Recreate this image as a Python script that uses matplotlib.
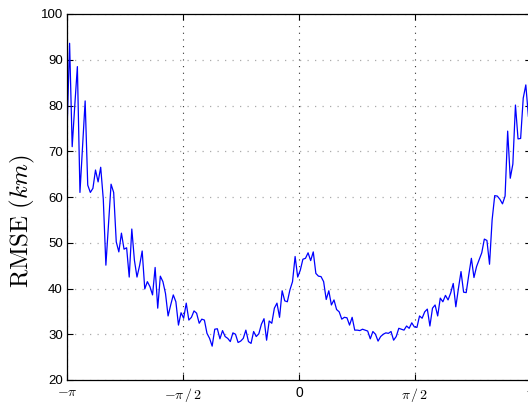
import numpy as np
import matplotlib
matplotlib.use("Agg")
import matplotlib.pyplot as plt

plt.rcParams['mathtext.fontset'] = 'cm'
plt.rcParams['font.family'] = ['Liberation Sans', 'DejaVu Sans']

# RMSE values (km) sampled uniformly from -pi to pi
rmse = [74, 93.6, 71, 80, 88.5, 61, 71, 81, 62.6, 61,
        61.9, 65.9, 63.3, 66.5, 59.5, 45.1, 54, 62.8, 61, 50.2,
        48, 52.1, 48.6, 48.9, 42.5, 53, 46.2, 42.5, 45, 48.2,
        39.9, 41.5, 40.4, 38.6, 44.6, 35.7, 42.7, 41.5, 38.9, 34,
        36.4, 38.6, 37.1, 32, 34.7, 33.5, 36.8, 33.1, 33.7, 35.1,
        34.6, 32.4, 33.3, 33.1, 30.2, 29.1, 27.4, 31.1, 31.2, 29,
        30.8, 29.5, 29.1, 28.4, 30.3, 30, 28.2, 28.5, 29.1, 30.9,
        28.4, 28, 30.6, 29.5, 30.1, 32.2, 33.4, 28.7, 32.9, 32.4,
        35.7, 36.8, 33.7, 39.5, 37.3, 37.1, 39.7, 41.5, 47, 42.5,
        44, 46.4, 46.6, 47.8, 46.1, 48, 43.3, 42.7, 42.6, 41.5,
        37.6, 39.5, 36.4, 37.5, 35.4, 34.9, 33.3, 33.7, 33.6, 32,
        33.7, 30.9, 30.9, 30.8, 31.1, 30.9, 30.7, 29, 30.6, 30,
        28.5, 29.5, 30, 30.3, 30.2, 30.6, 28.7, 29.5, 31.3, 31.1,
        30.9, 31.8, 31.3, 32.5, 31.6, 31.5, 34, 33.5, 34.9, 35.5,
        31.8, 35.7, 36.4, 34, 37.9, 37.1, 38.5, 37.5, 39, 41.1,
        36, 40, 43.7, 39.2, 39.1, 43, 46.6, 42.4, 44.8, 46.3,
        47.8, 50.8, 50.5, 45.3, 55, 60.3, 60.2, 59.5, 58.5, 60.2,
        74.4, 64.1, 67.2, 80.1, 72.7, 72.8, 81.6, 84.5, 77.6, 76]
angle = np.linspace(-np.pi, np.pi, len(rmse))

xticks = [-np.pi, -np.pi / 2, 0, np.pi / 2, np.pi]
xticklabels = [r'$-\pi$', r'$-\pi\,/\,2$', '0', r'$\pi\,/\,2$', r'$\pi$']
yticks = [20, 30, 40, 50, 60, 70, 80, 90, 100]

fig = plt.figure(figsize=(5.28, 4.03), dpi=100)
ax = fig.add_axes([67 / 528, 1 - 380 / 403, 464 / 528, 366 / 403])
ax.plot(angle, rmse, color='#0000ff', lw=0.9)

ax.set_xlim(-np.pi, np.pi)
ax.set_ylim(20, 100)
ax.set_xticks(xticks)
ax.set_xticklabels(xticklabels, fontsize=10)
ax.set_yticks(yticks)
ax.tick_params(axis='y', labelsize=9.5, pad=3)
ax.tick_params(axis='x', pad=4)
ax.tick_params(direction='in', length=4, width=0.8, top=True, right=True)
ax.xaxis.grid(True, color='#333333', linestyle=(0, (1, 5)), lw=0.8)
ax.yaxis.grid(True, color='#aaaaaa', linestyle=(0, (1, 5)), lw=0.9)
for s in ax.spines.values():
    s.set_linewidth(0.9)
ax.set_ylabel(r'$\mathrm{RMSE}\ (km)$', fontsize=18, va='center')
ax.yaxis.set_label_coords(-45 / 464, 0.434)

fig.savefig('out.png', dpi=100)
